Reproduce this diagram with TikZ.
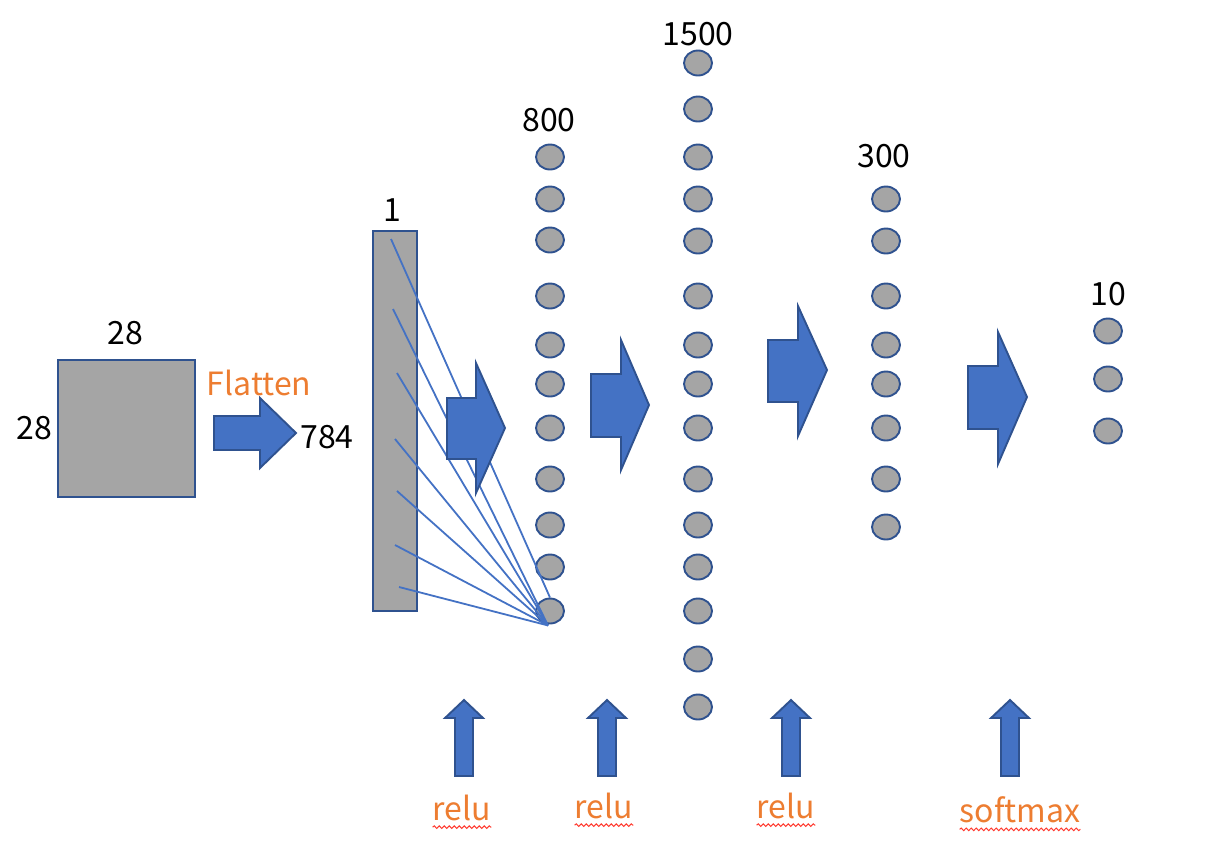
\documentclass[tikz,border=0pt]{standalone}
\usepackage{fontspec}
\newfontfamily\jpfont{Noto Sans CJK JP}
\usetikzlibrary{shapes.geometric,decorations.pathmorphing}
\definecolor{bluefill}{HTML}{4472C4}
\definecolor{blueedge}{HTML}{2F528F}
\definecolor{grayfill}{HTML}{A5A5A5}
\definecolor{orangetxt}{HTML}{ED7D31}
\definecolor{wavyred}{HTML}{FF3B30}
\begin{document}
\begin{tikzpicture}[x=1pt,y=-1pt,
  neuron/.style={ellipse,draw=blueedge,fill=grayfill,line width=1.9pt,minimum width=28pt,minimum height=25pt,inner sep=0pt},
  lbl/.style={font=\jpfont\fontsize{32}{32}\selectfont,text=black,inner sep=0pt},
  olbl/.style={font=\jpfont\fontsize{32}{32}\selectfont,text=orangetxt,inner sep=0pt},
  blockarrow/.style={draw=blueedge,fill=bluefill,line width=1.9pt,line join=miter},
  grayblock/.style={draw=blueedge,fill=grayfill,line width=1.9pt},
  fanline/.style={draw=bluefill,line width=1.8pt},
  wavy/.style={draw=wavyred,line width=1pt,decorate,decoration={snake,amplitude=1.3pt,segment length=5pt}}]
\useasboundingbox (0,0) rectangle (1228,846);
% input square
\node[grayblock,minimum width=137pt,minimum height=137pt,inner sep=0pt] (img) at (126.5,428.5) {};
\node[lbl] (t28a) at (125,333) {28};
\node[lbl] (t28b) at (34,428) {28};
\node[olbl] (flat) at (259,383) {Flatten};
\draw[blockarrow] (214,416)--(260,416)--(260,398)--(296,433)--(260,468)--(260,450)--(214,450)--cycle;
\node[lbl] (t784) at (327,437) {784};
% flattened bar
\node[grayblock,minimum width=44pt,minimum height=380pt,inner sep=0pt] (bar) at (395,421) {};
\node[lbl] (t1) at (392,210) {1};
% layer 800
\foreach \y [count=\i] in {157,199,240,296,345,384,428,479,525,567,611}
  \node[neuron] (a\i) at (550,\y) {};
\node[lbl] (t800) at (549,120) {800};
% layer 1500
\foreach \y [count=\i] in {63,109,157,199,241,296,345,384,428,479,525,567,611,659,707}
  \node[neuron] (b\i) at (698,\y) {};
\node[lbl] (t1500) at (698,34) {1500};
% layer 300
\foreach \y [count=\i] in {199,241,296,345,384,428,479,527}
  \node[neuron] (c\i) at (886,\y) {};
\node[lbl] (t300) at (884,156) {300};
% layer 10
\foreach \y [count=\i] in {331,379,431}
  \node[neuron] (d\i) at (1108,\y) {};
\node[lbl] (t10) at (1108,294) {10};
% fan lines
\coordinate (s1) at (391,239);
\coordinate (s2) at (393,309);
\coordinate (s3) at (397,373);
\coordinate (s4) at (395,439);
\coordinate (s5) at (397,491);
\coordinate (s6) at (395,545);
\coordinate (s7) at (399,587);
\coordinate (conv) at ([xshift=-2pt,yshift=-1pt]a11.south);
\draw[fanline] (s1) -- (a11.north);
\foreach \k in {2,...,7}
  \draw[fanline] (s\k) -- (conv);
% block arrows between layers
\draw[blockarrow] (447,398)--(476,398)--(476,363)--(505,428)--(476,493)--(476,459)--(447,459)--cycle;
\draw[blockarrow] (591,374)--(621,374)--(621,340)--(649,405)--(621,470)--(621,437)--(591,437)--cycle;
\draw[blockarrow] (768,340)--(798,340)--(798,306)--(827,370)--(798,436)--(798,402)--(768,402)--cycle;
\draw[blockarrow] (968,366)--(998,366)--(998,332)--(1027,397)--(998,464)--(998,429)--(968,429)--cycle;
% up arrows
\foreach \cx in {464,607,791,1010}
  \draw[blockarrow] (\cx-9,776)--(\cx-9,718)--(\cx-19,718)--(\cx,700)--(\cx+19,718)--(\cx+9,718)--(\cx+9,776)--cycle;
% activation labels
\node[olbl] (r1) at (462,808) {relu};
\node[olbl] (r2) at (604,806) {relu};
\node[olbl] (r3) at (786,806) {relu};
\node[olbl] (r4) at (1020,810) {softmax};
\foreach \r in {r1,r2,r3,r4}
  \draw[wavy] ([yshift=-6pt]\r.south west) -- ([yshift=-6pt]\r.south east);
\end{tikzpicture}
\end{document}
